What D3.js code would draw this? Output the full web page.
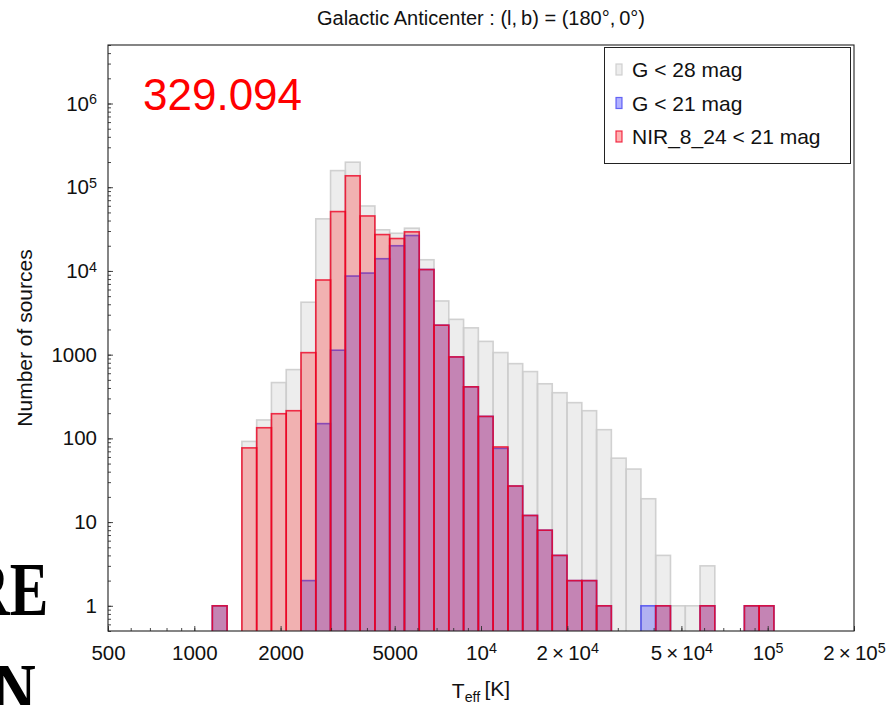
<!DOCTYPE html>
<html>
<head>
<meta charset="utf-8">
<script src="https://cdn.jsdelivr.net/npm/d3@7"></script>
<style>
  body { margin: 0; background: #fff; }
  svg { display: block; font-family: 'Liberation Sans', Arial, sans-serif; }
</style>
</head>
<body>
<svg id="chart"></svg>
<script>
const chartSize = {width: 895, height: 705};
const margin = {left: 108, right: 41, top: 45, bottom: 74};
const width = chartSize.width - margin.left - margin.right;
const height = chartSize.height - margin.top - margin.bottom;

// log-spaced Teff bins, the counts below start at bin index 7
const binLogStart = 2.702;
const binLogWidth = 0.05155;
const firstBin = 7;

const countsG28 = [1, 0, 92, 166, 464, 663, 4230, 41900, 158000, 199000, 59700, 31000, 28200, 32400,
  13600, 4380, 2640, 2090, 1440, 1060, 781, 628, 449, 351, 267, 214, 127, 58, 43, 19, 4, 1, 1, 3, 0, 0, 1, 1];
const countsG21 = [1, 0, 0, 0, 0, 0, 2, 150, 1130, 8700, 9440, 14000, 20000, 26500,
  10400, 2250, 940, 413, 183, 76, 27, 12, 8, 4, 2, 2, 1, 0, 0, 1, 1, 0, 0, 1, 0, 0, 1, 1];
const countsNIR = [1, 0, 77, 134, 197, 214, 1057, 7800, 51200, 137000, 45400, 27200, 24400, 29300,
  10400, 2250, 940, 413, 183, 79, 27, 12, 8, 4, 2, 2, 1, 0, 0, 0, 1, 0, 0, 1, 0, 0, 1, 1];

const seriesNames = ['G < 28 mag', 'G < 21 mag', 'NIR_8_24 < 21 mag'];
const xTickValues = [500, 1000, 2000, 5000, 1e4, 2e4, 5e4, 1e5, 2e5];
const yTickValues = [1, 10, 100, 1000, 1e4, 1e5, 1e6];
const xDomain = [500, 2e5];
const yDomain = [0.5, 5e6];
const titleText = 'Galactic Anticenter :  (l,\u2009b) = (180°,\u20090°)';
const totalLabel = '329.094';

const styles = [
  {fill: '#d3d3d3', fillOpacity: 0.4, stroke: '#cccccc', strokeOpacity: 0.9},
  {fill: '#0000ff', fillOpacity: 0.25, stroke: '#3b3bf0', strokeOpacity: 0.75},
  {fill: '#ff0000', fillOpacity: 0.25, stroke: '#ee0022', strokeOpacity: 0.8}
];

const x = d3.scaleLog().domain(xDomain).range([0, width]);
const y = d3.scaleLog().domain(yDomain).range([height, 0]);

const binEdge = k => Math.pow(10, binLogStart + binLogWidth * k);

const toBins = counts => counts
    .map((count, i) => ({lo: binEdge(firstBin + i), hi: binEdge(firstBin + i + 1), count}))
    .filter(d => d.count > 0);

const powerLabel = function (text, value) {
  const exp = Math.floor(Math.log10(value) + 1e-9);
  const mant = Math.round(value / Math.pow(10, exp));
  text.text(null);
  if (exp < 4) {
    text.text(value);
    return;
  }
  text.append('tspan').text(mant === 1 ? '10' : `${mant}\u2009×\u200910`);
  text.append('tspan')
      .attr('dy', '-0.45em')
      .attr('font-size', '0.7em')
      .text(exp);
};

const minorTicks = function ([lo, hi]) {
  const ticks = [];
  for (let e = Math.floor(Math.log10(lo)); e <= Math.ceil(Math.log10(hi)); e++) {
    for (let m = 1; m < 10; m++) {
      const v = m * Math.pow(10, e);
      if (v >= lo && v <= hi) ticks.push(v);
    }
  }
  return ticks;
};

const drawAxes = function (g) {
  const xMinor = g.append('g')
      .attr('transform', `translate(0,${height})`)
      .call(d3.axisBottom(x).tickValues(minorTicks(xDomain)).tickSize(-3).tickFormat(''));
  const yMinor = g.append('g')
      .call(d3.axisLeft(y).tickValues(minorTicks(yDomain)).tickSize(-3).tickFormat(''));

  const xAxis = g.append('g')
      .attr('class', 'x axis')
      .attr('transform', `translate(0,${height})`)
      .call(d3.axisBottom(x).tickValues(xTickValues).tickSize(-5).tickPadding(14));
  xAxis.selectAll('.tick text')
      .each(function (d) { powerLabel(d3.select(this), d); });

  const yAxis = g.append('g')
      .attr('class', 'y axis')
      .call(d3.axisLeft(y).tickValues(yTickValues).tickSize(-5).tickPadding(11));
  yAxis.selectAll('.tick text')
      .each(function (d) { powerLabel(d3.select(this), d); });

  [xMinor, yMinor, xAxis, yAxis].forEach(a => {
    a.select('.domain').remove();
    a.selectAll('.tick line').attr('stroke', '#333').attr('stroke-width', 0.9);
    a.selectAll('.tick text')
        .attr('fill', '#111')
        .attr('font-size', 20.5)
        .attr('font-family', "'Liberation Sans', Arial, sans-serif");
  });
};

const drawBars = function (g) {
  const plot = g.append('g').attr('clip-path', 'url(#plot-clip)');
  [countsG28, countsG21, countsNIR].forEach((counts, i) => {
    const s = styles[i];
    plot.append('g')
        .selectAll('rect')
        .data(toBins(counts))
        .join('rect')
        .attr('x', d => x(d.lo))
        .attr('width', d => x(d.hi) - x(d.lo))
        .attr('y', d => y(d.count))
        .attr('height', d => height + 4 - y(d.count))
        .attr('fill', s.fill)
        .attr('fill-opacity', s.fillOpacity)
        .attr('stroke', s.stroke)
        .attr('stroke-opacity', s.strokeOpacity)
        .attr('stroke-width', 1.6);
  });
};

const drawLegend = function (g) {
  const legend = g.append('g')
      .attr('transform', `translate(${width - 250},2)`);

  legend.append('rect')
      .attr('x', 0.5)
      .attr('y', 0.5)
      .attr('width', 246)
      .attr('height', 116)
      .attr('fill', '#fff')
      .attr('stroke', '#222')
      .attr('stroke-width', 1);

  const rows = legend.selectAll('.entry')
      .data(seriesNames)
      .join('g')
      .attr('class', 'entry')
      .attr('transform', (d, i) => `translate(12,${23 + i * 33.5})`);

  rows.append('rect')
      .attr('x', 0)
      .attr('y', -6)
      .attr('width', 6)
      .attr('height', 11)
      .attr('fill', (d, i) => styles[i].fill)
      .attr('fill-opacity', (d, i) => i === 0 ? 0.4 : 0.3)
      .attr('stroke', (d, i) => styles[i].stroke)
      .attr('stroke-opacity', (d, i) => styles[i].strokeOpacity)
      .attr('stroke-width', 1.2);

  rows.append('text')
      .attr('x', 16)
      .attr('y', 7)
      .attr('font-size', 21)
      .attr('fill', '#111')
      .text(d => d);
};

const drawLabels = function (svg, g) {
  svg.append('text')
      .attr('x', margin.left + width / 2)
      .attr('y', 25)
      .attr('text-anchor', 'middle')
      .attr('font-size', 20)
      .attr('fill', '#111')
      .text(titleText);

  g.append('text')
      .attr('x', 35)
      .attr('y', 65)
      .attr('font-size', 44)
      .attr('fill', '#ff0000')
      .text(totalLabel);

  const xLabel = svg.append('text')
      .attr('x', margin.left + width / 2)
      .attr('y', 698)
      .attr('text-anchor', 'middle')
      .attr('font-size', 21)
      .attr('fill', '#111');
  xLabel.append('tspan').text('T');
  xLabel.append('tspan').attr('dy', '0.3em').attr('font-size', '0.68em').text('eff');
  xLabel.append('tspan').attr('dy', '-0.3em').text('\u2009[K]');

  svg.append('text')
      .attr('transform', `translate(32,${margin.top + height / 2}) rotate(-90)`)
      .attr('text-anchor', 'middle')
      .attr('font-size', 21)
      .attr('fill', '#111')
      .text('Number of sources');

  // pieces of page text that show at the left edge of the picture
  svg.append('text')
      .attr('transform', 'translate(-32,615) scale(0.76,1)')
      .attr('font-family', "'Liberation Serif', serif")
      .attr('font-weight', 'bold')
      .attr('font-size', 76)
      .attr('fill', '#000')
      .text('RE');
  svg.append('text')
      .attr('transform', 'translate(-6,716) scale(0.76,1)')
      .attr('font-family', "'Liberation Serif', serif")
      .attr('font-weight', 'bold')
      .attr('font-size', 76)
      .attr('fill', '#000')
      .text('N');
};

const main = () => {
  const svg = d3.select('#chart')
      .attr('width', chartSize.width)
      .attr('height', chartSize.height);

  svg.append('defs')
      .append('clipPath')
      .attr('id', 'plot-clip')
      .append('rect')
      .attr('width', width)
      .attr('height', height);

  const g = svg.append('g')
      .attr('transform', `translate(${margin.left},${margin.top})`);

  drawBars(g);
  drawAxes(g);

  g.append('rect')
      .attr('width', width)
      .attr('height', height)
      .attr('fill', 'none')
      .attr('stroke', '#222')
      .attr('stroke-width', 1.1);

  drawLegend(g);
  drawLabels(svg, g);
};

main();
</script>
</body>
</html>
